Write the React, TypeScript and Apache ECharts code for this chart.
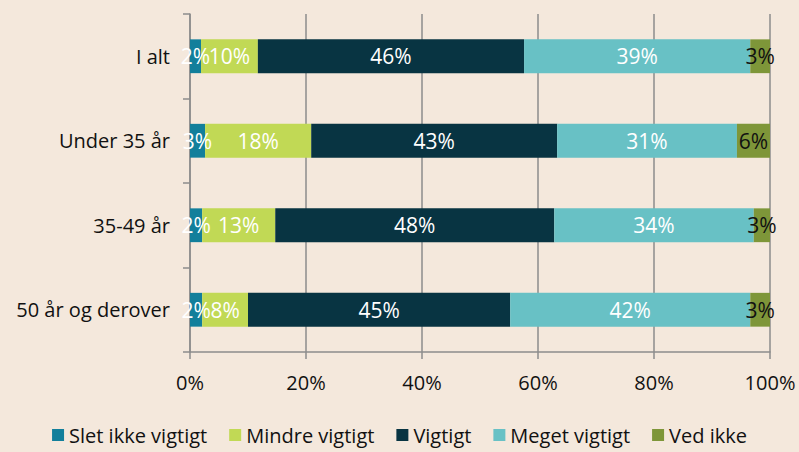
import React, { useEffect, useRef } from "react";
import * as echarts from "echarts";

const categories = ["I alt", "Under 35 år", "35-49 år", "50 år og derover"];
const seriesNames = ["Slet ikke vigtigt", "Mindre vigtigt", "Vigtigt", "Meget vigtigt", "Ved ikke"];
const sletIkke = [1.9, 2.6, 2.1, 2.1];
const mindre = [9.8, 18.3, 12.6, 7.9];
const vigtigt = [45.9, 42.4, 48.1, 45.2];
const meget = [39.0, 31.0, 34.4, 41.4];
const vedIkke = [3.4, 5.7, 2.8, 3.4];
const seriesData = [sletIkke, mindre, vigtigt, meget, vedIkke];
// printed (rounded) labels as shown in the chart
const sletIkkeLabels = [2, 3, 2, 2];
const mindreLabels = [10, 18, 13, 8];
const vigtigtLabels = [46, 43, 48, 45];
const megetLabels = [39, 31, 34, 42];
const vedIkkeLabels = [3, 6, 3, 3];
const seriesLabels = [sletIkkeLabels, mindreLabels, vigtigtLabels, megetLabels, vedIkkeLabels];
const colors = ["#127f9b", "#c1d955", "#083442", "#68c1c5", "#7e9639"];
const labelColors = ["#ffffff", "#ffffff", "#ffffff", "#ffffff", "#111111"];
const xTicks = ["0%", "20%", "40%", "60%", "80%", "100%"];

const FONT = "'Open Sans', 'Noto Sans', sans-serif";

export default function App() {
  const ref = useRef<HTMLDivElement>(null);
  useEffect(() => {
    if (!ref.current) return;
    const chart = echarts.init(ref.current, undefined, { renderer: "svg" });
    chart.setOption({
      animation: false,
      backgroundColor: "#f4e8dc",
      textStyle: { fontFamily: FONT },
      grid: { left: 190, right: 29, top: 14, bottom: 100, containLabel: false },
      legend: {
        bottom: 2,
        left: "center",
        itemWidth: 12,
        itemHeight: 12,
        itemGap: 22,
        icon: "rect",
        textStyle: { fontSize: 20, color: "#111", fontFamily: FONT },
        data: seriesNames,
      },
      xAxis: {
        type: "value",
        min: 0,
        max: 100,
        interval: 20,
        axisLine: { show: true, lineStyle: { color: "#8c8c8c", width: 1.5 } },
        axisTick: { show: true, length: 7, lineStyle: { color: "#8c8c8c", width: 1.5 } },
        splitLine: { show: true, lineStyle: { color: "#8c8c8c", width: 1.5 } },
        axisLabel: {
          fontSize: 20,
          color: "#111",
          margin: 20,
          formatter: (v: number) => xTicks[Math.round(v / 20)],
        },
      },
      yAxis: {
        type: "category",
        inverse: true,
        data: categories,
        axisLine: { show: true, lineStyle: { color: "#8c8c8c", width: 1.5 } },
        axisTick: { show: true, length: 7, lineStyle: { color: "#8c8c8c", width: 1.5 } },
        axisLabel: { fontSize: 20, color: "#111", margin: 20 },
      },
      series: seriesNames.map((name, i) => ({
        name,
        type: "bar",
        stack: "total",
        barCategoryGap: "60%",
        data: seriesData[i],
        itemStyle: { color: colors[i] },
        label: {
          show: true,
          position: "inside",
          color: labelColors[i],
          fontSize: 21,
          fontFamily: FONT,
          formatter: (p: any) => seriesLabels[i][p.dataIndex] + "%",
        },
      })),
    });
    return () => chart.dispose();
  }, []);
  return <div ref={ref} style={{ width: 799, height: 452, position: "absolute", left: 0, top: 0 }} />;
}
